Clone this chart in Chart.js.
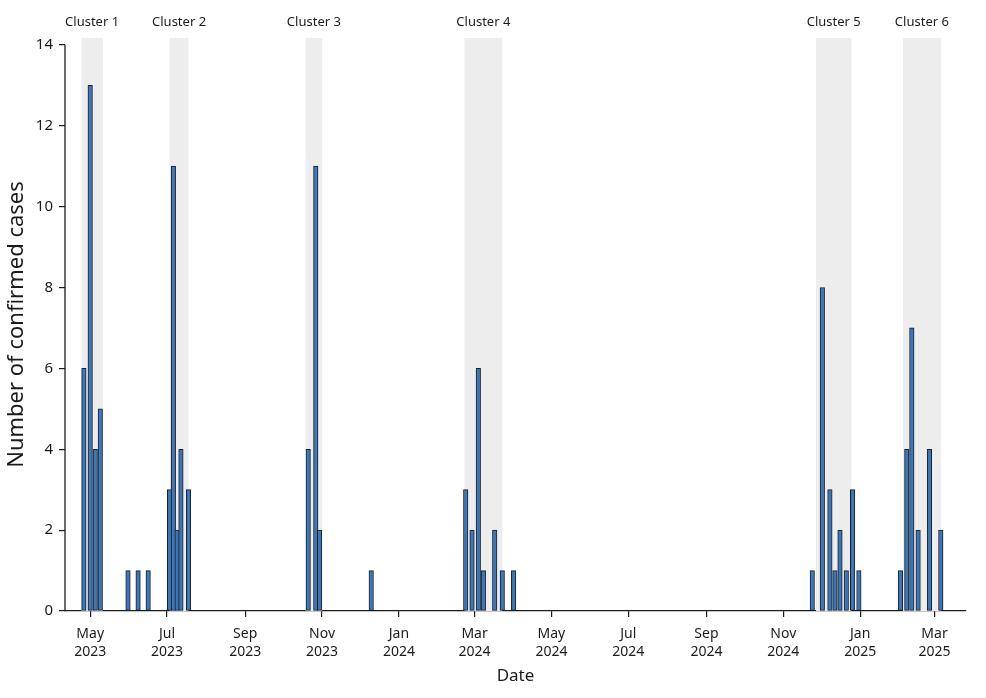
<!DOCTYPE html>
<html>
<head>
<meta charset="utf-8">
<script src="https://cdn.jsdelivr.net/npm/chart.js@4.4.1/dist/chart.umd.min.js"></script>
<style>
html,body{margin:0;padding:0;background:#ffffff;}
#wrap{width:986px;height:698px;position:relative;}
</style>
</head>
<body>
<div id="wrap"><canvas id="c"></canvas></div>
<script>
// ---- data ----
const caseDates = [
  "2023-04-26","2023-05-01","2023-05-05","2023-05-09",
  "2023-05-31","2023-06-08","2023-06-16",
  "2023-07-03","2023-07-06","2023-07-09","2023-07-12","2023-07-18",
  "2023-10-21","2023-10-27","2023-10-30",
  "2023-12-10",
  "2024-02-23","2024-02-28","2024-03-04","2024-03-08","2024-03-17","2024-03-23","2024-04-01",
  "2024-11-24","2024-12-02","2024-12-08","2024-12-12","2024-12-16","2024-12-21","2024-12-26","2024-12-31",
  "2025-02-02","2025-02-07","2025-02-11","2025-02-16","2025-02-25","2025-03-06"
];
const caseCounts = [
  6,13,4,5,
  1,1,1,
  3,11,2,4,3,
  4,11,2,
  1,
  3,2,6,1,2,1,1,
  1,8,3,1,2,1,3,1,
  1,4,7,2,4,2
];
const clusterNames  = ["Cluster 1","Cluster 2","Cluster 3","Cluster 4","Cluster 5","Cluster 6"];
const clusterStarts = ["2023-04-24","2023-07-03","2023-10-19","2024-02-22","2024-11-27","2025-02-04"];
const clusterEnds   = ["2023-05-11","2023-07-18","2023-11-01","2024-03-23","2024-12-25","2025-03-06"];
const xTickDates  = ["2023-05-01","2023-07-01","2023-09-01","2023-11-01","2024-01-01","2024-03-01",
                     "2024-05-01","2024-07-01","2024-09-01","2024-11-01","2025-01-01","2025-03-01"];
const xTickLabels = [["May","2023"],["Jul","2023"],["Sep","2023"],["Nov","2023"],["Jan","2024"],["Mar","2024"],
                     ["May","2024"],["Jul","2024"],["Sep","2024"],["Nov","2024"],["Jan","2025"],["Mar","2025"]];
const yTickValues = [0,2,4,6,8,10,12,14];
const xRange = ["2023-04-11","2025-03-26"];
const yMaxValue = 14.17;

// ---- helpers ----
const ORIGIN = Date.UTC(2023,4,1);
function dayNum(s){ const p=s.split('-').map(Number); return (Date.UTC(p[0],p[1]-1,p[2])-ORIGIN)/86400000; }

const FONT = "'Noto Sans', 'Open Sans', sans-serif";
const TEXT = '#1c1c1c';
const AXIS = '#1c1c1c';

const points = caseDates.map((d,i)=>({x:dayNum(d), y:caseCounts[i]}));
const tickDays = xTickDates.map(dayNum);

const clusterPlugin = {
  id:'clusters',
  beforeDatasetsDraw(chart){
    const {ctx, chartArea, scales:{x}} = chart;
    ctx.save();
    ctx.fillStyle = '#ededed';
    for(let i=0;i<clusterNames.length;i++){
      const x0 = x.getPixelForValue(dayNum(clusterStarts[i]));
      const x1 = x.getPixelForValue(dayNum(clusterEnds[i]));
      ctx.fillRect(x0, chartArea.top, x1-x0, chartArea.bottom-chartArea.top);
    }
    ctx.restore();
  },
  afterDraw(chart){
    const {ctx, chartArea, scales:{x,y}} = chart;
    ctx.save();
    ctx.fillStyle = TEXT;
    ctx.font = "13px " + FONT;
    ctx.textAlign = 'center';
    ctx.textBaseline = 'middle';
    for(let i=0;i<clusterNames.length;i++){
      const x0 = x.getPixelForValue(dayNum(clusterStarts[i]));
      const x1 = x.getPixelForValue(dayNum(clusterEnds[i]));
      ctx.fillText(clusterNames[i], (x0+x1)/2, 22);
    }
    ctx.strokeStyle = AXIS;
    ctx.lineWidth = 1.3;
    ctx.beginPath();
    ctx.moveTo(chartArea.left, y.getPixelForValue(0));
    ctx.lineTo(chartArea.left, y.getPixelForValue(yTickValues[yTickValues.length-1]));
    ctx.stroke();
    ctx.restore();
  }
};

new Chart(document.getElementById('c'), {
  type:'bar',
  data:{
    datasets:[{
      data: points,
      backgroundColor:'#3f76b3',
      borderColor:'#17202c',
      borderWidth:1,
      borderSkipped:false,
      barThickness:4.5
    }]
  },
  options:{
    responsive:true,
    maintainAspectRatio:false,
    animation:false,
    devicePixelRatio:1,
    layout:{padding:{top:38,right:20,left:0,bottom:0}},
    plugins:{legend:{display:false},tooltip:{enabled:false}},
    scales:{
      x:{
        type:'linear',
        offset:false,
        min: dayNum(xRange[0]),
        max: dayNum(xRange[1]),
        afterBuildTicks(scale){ scale.ticks = tickDays.map(v=>({value:v})); },
        afterFit(scale){ scale.height = 87; },
        grid:{display:true, drawOnChartArea:false, drawTicks:true, tickLength:6, color:AXIS, lineWidth:1.2, offset:false},
        border:{display:true, color:AXIS, width:1.3},
        ticks:{
          autoSkip:false, maxRotation:0, padding:8,
          color:TEXT,
          font:{family:FONT, size:14, lineHeight:1.3},
          callback(v, i){ return xTickLabels[i]; }
        },
        title:{display:true, text:'Date', color:TEXT, font:{family:FONT, size:17}, padding:{top:2,bottom:12}}
      },
      y:{
        min:0,
        max:yMaxValue,
        afterBuildTicks(scale){ scale.ticks = yTickValues.map(v=>({value:v})); },
        afterFit(scale){ scale.width = 65; },
        grid:{display:true, drawOnChartArea:false, drawTicks:true, tickLength:6, color:AXIS, lineWidth:1.2},
        border:{display:false},
        ticks:{padding:6, color:TEXT, font:{family:FONT, size:15}},
        title:{display:true, text:'Number of confirmed cases', color:TEXT, font:{family:FONT, size:22}, padding:{top:4,bottom:0}}
      }
    }
  },
  plugins:[clusterPlugin]
});
</script>
</body>
</html>
